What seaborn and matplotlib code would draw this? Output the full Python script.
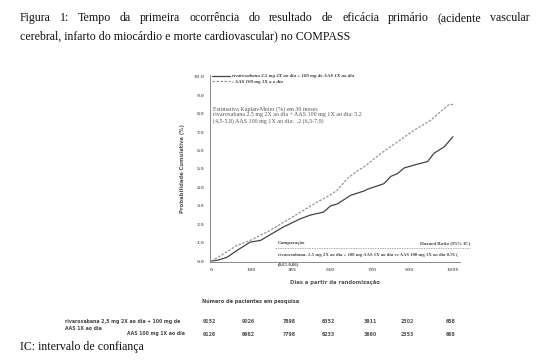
import pandas as pd
import matplotlib.pyplot as plt
import seaborn as sns

# curvas de Kaplan-Meier
dias_riva = [0, 30, 71, 120, 177, 223, 270, 327, 405, 450, 509, 541, 571, 632,
             691, 708, 782, 814, 844, 873, 930, 980, 1009, 1055, 1095]
prob_riva = [0.0, 0.05, 0.2, 0.6, 1.03, 1.12, 1.45, 1.85, 2.3, 2.5, 2.66, 3.0, 3.1, 3.57,
             3.8, 3.9, 4.2, 4.6, 4.75, 5.05, 5.25, 5.4, 5.85, 6.2, 6.75]

dias_aas = [0, 30, 71, 116, 177, 268, 327, 405, 480, 541, 571, 617, 662,
            691, 768, 844, 918, 995, 1055, 1077, 1095]
prob_aas = [0.0, 0.2, 0.5, 0.85, 1.12, 1.67, 2.1, 2.66, 3.2, 3.6, 3.85, 4.48, 4.9,
            5.1, 5.84, 6.47, 7.1, 7.65, 8.28, 8.5, 8.5]

grupos = ['rivaroxabana 2,5 mg 2X ao dia + 100 mg de AAS 1X ao dia',
          ': AAS 100 mg 1X a o dia']

ticks_x = [0, 180, 365, 540, 730, 900, 1095]
ticks_y = [0, 1, 2, 3, 4, 5, 6, 7, 8, 9, 10]

pacientes_riva = [9152, 9026, 7898, 6352, 3911, 2302, 658]
pacientes_aas = [9126, 8982, 7798, 6233, 3860, 2353, 668]

titulo_1 = 'Figura 1: Tempo da primeira ocorrência do resultado de eficácia primário (acidente vascular'
titulo_2 = 'cerebral, infarto do miocárdio e morte cardiovascular) no COMPASS'

df = pd.concat([
    pd.DataFrame({'dias': dias_riva, 'prob': prob_riva, 'grupo': grupos[0]}),
    pd.DataFrame({'dias': dias_aas, 'prob': prob_aas, 'grupo': grupos[1]}),
])

sns.set_style('white')
plt.rcParams['font.family'] = ['Liberation Serif', 'DejaVu Serif']

fig = plt.figure(figsize=(5.55, 3.62), dpi=100)
ax = fig.add_axes([0.3784, 0.2762, 0.4505, 0.5166])

sns.lineplot(data=df, x='dias', y='prob', hue='grupo', style='grupo',
             palette=['#444444', '#959595'], dashes=[(None, None), (2, 1.2)],
             linewidth=0.9, ax=ax)

ax.set_xlim(-5, 1127)
ax.set_ylim(-0.05, 10.1)
ax.set_xticks(ticks_x)
ax.set_xticklabels([str(t) for t in ticks_x], fontsize=3.2, fontweight='bold',
                   family='DejaVu Sans', color='#555555')
ax.set_yticks(ticks_y)
ax.set_yticklabels([f'{t:.1f}' for t in ticks_y], fontsize=3.2, fontweight='bold',
                   family='DejaVu Sans', color='#555555')
ax.tick_params(length=2, width=0.5, pad=2, colors='#777777')
for lado in ['top', 'right']:
    ax.spines[lado].set_visible(False)
for lado in ['left', 'bottom']:
    ax.spines[lado].set_color('#777777')
    ax.spines[lado].set_linewidth(0.6)

ax.set_xlabel('Dias a partir da randomização', fontsize=3.8, fontweight='bold',
              family='DejaVu Sans', color='#555555', labelpad=6)
ax.set_ylabel('Probabilidade Cumulativa (%)', fontsize=3.8, fontweight='bold',
              family='DejaVu Sans', color='#555555', labelpad=6)

leg = ax.legend(loc='upper left', bbox_to_anchor=(-0.01, 1.03), frameon=False,
                handlelength=3.5, handletextpad=0.4, labelspacing=0.25,
                prop={'size': 3.6, 'style': 'italic', 'weight': 'bold'})
for t in leg.get_texts():
    t.set_color('#333333')

# caixa de texto com estimativas
ax.text(0.012, 0.835, 'Estimativa Kaplan-Meier (%) em 30 meses\n'
        'rivaroxabana 2,5 mg 2X ao dia + AAS 100 mg 1X ao dia: 5,2\n'
        '(4,5-5,8) AAS 100 mg 1X ao dia:  ,2 (6,5-7,9)',
        transform=ax.transAxes, fontsize=4.3, color='#555555',
        va='top', ha='left', linespacing=1.15)

# comparacao
ax.text(0.27, 0.10, 'Comparação', transform=ax.transAxes, fontsize=3.6,
        fontweight='bold', color='#444444', va='center')
ax.text(1.04, 0.10, 'Hazard Ratio (95% IC)', transform=ax.transAxes, fontsize=3.6,
        fontweight='bold', color='#444444', va='center', ha='right')
ax.axhline(0.7, xmin=0.26, xmax=1.04, color='#888888', lw=0.5, ls=(0, (2, 1.5)),
           clip_on=False)
ax.text(0.27, 0.035, 'rivaroxabana- 2,5 mg 2X ao dia + 100 mg AAS 1X ao dia vs AAS 100 mg 1X ao dia 0,76 (',
        transform=ax.transAxes, fontsize=3.4, fontweight='bold', color='#444444',
        va='center', clip_on=False)
ax.text(0.27, -0.01, '(0,65-0,86)', transform=ax.transAxes, fontsize=3.4,
        fontweight='bold', color='#444444', va='center')

# pacientes em risco
trans = ax.get_xaxis_transform()
fig.text(202 / 555, 1 - 301 / 362, 'Número de pacientes em pesquisa',
         fontsize=3.6, fontweight='bold', family='DejaVu Sans', color='#444444', va='center')
for x, n1, n2 in zip(ticks_x, pacientes_riva, pacientes_aas):
    ax.text(x - 10, -0.32, str(n1), transform=trans, fontsize=3.4, fontweight='bold',
            family='DejaVu Sans', color='#555555', ha='center', va='center')
    ax.text(x - 10, -0.39, str(n2), transform=trans, fontsize=3.4, fontweight='bold',
            family='DejaVu Sans', color='#555555', ha='center', va='center')

fig.text(65 / 555, 1 - 321 / 362, 'rivaroxabana 2,5 mg 2X ao dia + 100 mg de',
         fontsize=3.3, fontweight='bold', family='DejaVu Sans', color='#444444', va='center')
fig.text(65 / 555, 1 - 328 / 362, 'AAS 1X ao dia', fontsize=3.3, fontweight='bold',
         family='DejaVu Sans', color='#444444', va='center')
fig.text(127 / 555, 1 - 334 / 362, 'AAS 100 mg 1X ao dia', fontsize=3.3, fontweight='bold',
         family='DejaVu Sans', color='#444444', va='center')

# titulo: primeira linha justificada entre x=20 e x=530
renderer = fig.canvas.get_renderer()
palavras = titulo_1.split(' ')
textos = [fig.text(0, 1 - 21 / 362, p, fontsize=8.6, color='#111111', va='baseline')
          for p in palavras]
larguras = [t.get_window_extent(renderer).width for t in textos]
espaco = (510 - sum(larguras)) / (len(palavras) - 1)
x = 20
for t, w in zip(textos, larguras):
    t.set_x(x / 555)
    x += w + espaco
fig.text(20 / 555, 1 - 39 / 362, titulo_2, fontsize=8.6, color='#111111', va='baseline')
fig.text(20 / 555, 1 - 350 / 362, 'IC: intervalo de confiança',
         fontsize=8.6, color='#111111', va='baseline')

fig.savefig('out.png', dpi=100)
